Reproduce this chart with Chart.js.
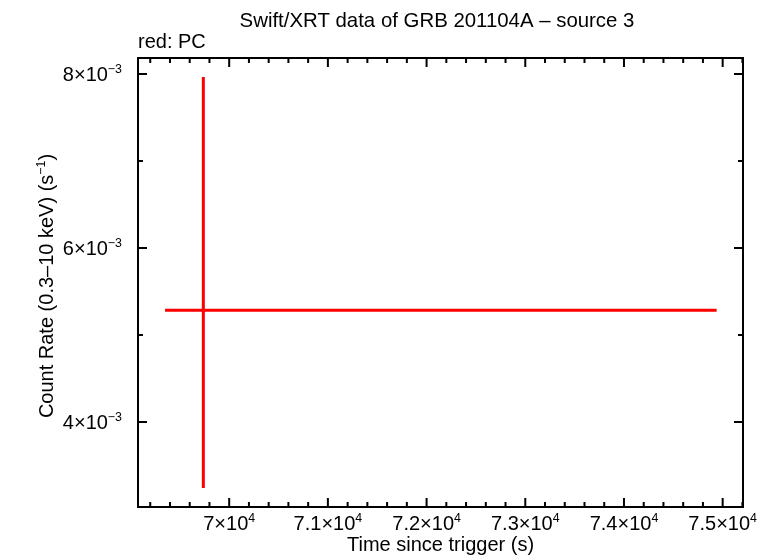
<!DOCTYPE html>
<html><head><meta charset="utf-8">
<script src="https://cdn.jsdelivr.net/npm/chart.js@4"></script>
<style>html,body{margin:0;padding:0;background:#fff}#wrap{width:772px;height:558px}</style>
</head><body><div id="wrap"><canvas id="c" width="772" height="558"></canvas></div>
<script>
// ---- data ----
const timeValues   = [69738];
const timeErrMinus = [388];
const timeErrPlus  = [5201];
const rateValues   = [0.005284];
const rateErrMinus = [0.002043];
const rateErrPlus  = [0.002682];

const xTickValues    = [70000, 71000, 72000, 73000, 74000, 75000];
const xTickMantissas = ['7', '7.1', '7.2', '7.3', '7.4', '7.5'];
const xTickExponent  = '4';
const yTickValues    = [0.004, 0.006, 0.008];
const yTickMantissas = ['4', '6', '8'];
const yTickExponent  = '\u22123';
const xMinorStep = 200;
const yMinorStep = 0.001;
const xRange = [69076, 75206];
const yRange = [0.003023, 0.008184];

const titleText = 'Swift/XRT data of GRB 201104A \u2013 source 3';
const subtitleText = 'red: PC';
const xTitleText = 'Time since trigger (s)';
const yTitleSegments = [{t:'Count Rate (0.3\u201310 keV) (s'}, {t:'\u22121', sup:true}, {t:')'}];

const FONT = '"Liberation Sans", Arial, Helvetica, sans-serif';
const FS = 20;

function font(sz){ return sz + 'px ' + FONT; }
function segWidth(ctx, segs, sz){
  let w = 0;
  for (const s of segs){ ctx.font = font(s.sup ? sz*0.62 : sz); w += ctx.measureText(s.t).width; }
  return w;
}
function drawSegs(ctx, segs, x, y, sz, align){
  const w = segWidth(ctx, segs, sz);
  let cx = align === 'right' ? x - w : align === 'center' ? x - w/2 : x;
  ctx.textAlign = 'left';
  for (const s of segs){
    const fsz = s.sup ? sz*0.62 : sz;
    ctx.font = font(fsz);
    ctx.fillText(s.t, cx, s.sup ? y - sz*0.38 : y);
    cx += ctx.measureText(s.t).width;
  }
}

const plotPlugin = {
  id: 'plotPlugin',
  afterDraw(chart){
    const ctx = chart.ctx;
    const xs = chart.scales.x, ys = chart.scales.y;
    const a = chart.chartArea;
    ctx.save();
    // error bars
    ctx.strokeStyle = '#ff0000';
    ctx.lineWidth = 3;
    ctx.lineCap = 'butt';
    for (let i = 0; i < timeValues.length; i++){
      const px = xs.getPixelForValue(timeValues[i]);
      const py = ys.getPixelForValue(rateValues[i]);
      const x1 = xs.getPixelForValue(timeValues[i] - timeErrMinus[i]);
      const x2 = xs.getPixelForValue(timeValues[i] + timeErrPlus[i]);
      const y1 = ys.getPixelForValue(rateValues[i] - rateErrMinus[i]);
      const y2 = ys.getPixelForValue(rateValues[i] + rateErrPlus[i]);
      ctx.beginPath();
      ctx.moveTo(x1, py); ctx.lineTo(x2, py);
      ctx.moveTo(px, y1); ctx.lineTo(px, y2);
      ctx.stroke();
    }
    // ticks
    ctx.strokeStyle = '#000';
    ctx.lineWidth = 2;
    const MAJ = 9, MIN = 5;
    ctx.beginPath();
    const x0 = Math.ceil(xRange[0] / xMinorStep) * xMinorStep;
    for (let v = x0; v <= xRange[1]; v += xMinorStep){
      const isMaj = xTickValues.some(t => Math.abs(t - v) < 1e-6);
      const L = isMaj ? MAJ : MIN;
      const p = xs.getPixelForValue(v);
      ctx.moveTo(p, a.bottom); ctx.lineTo(p, a.bottom - L);
      ctx.moveTo(p, a.top); ctx.lineTo(p, a.top + L);
    }
    const y0 = Math.ceil(yRange[0] / yMinorStep - 1e-9) * yMinorStep;
    for (let k = 0; y0 + k*yMinorStep <= yRange[1]; k++){
      const v = y0 + k*yMinorStep;
      const isMaj = yTickValues.some(t => Math.abs(t - v) < 1e-9);
      const L = isMaj ? MAJ : MIN;
      const p = ys.getPixelForValue(v);
      ctx.moveTo(a.left, p); ctx.lineTo(a.left + L, p);
      ctx.moveTo(a.right, p); ctx.lineTo(a.right - L, p);
    }
    ctx.stroke();
    // frame
    ctx.lineWidth = 2;
    ctx.strokeRect(a.left, a.top, a.right - a.left, a.bottom - a.top);
    // tick labels
    ctx.fillStyle = '#000';
    ctx.textBaseline = 'alphabetic';
    xTickValues.forEach((v, i) => {
      const p = xs.getPixelForValue(v);
      drawSegs(ctx, [{t: xTickMantissas[i] + '\u00d710'}, {t: xTickExponent, sup: true}], p, 530, FS, 'center');
    });
    yTickValues.forEach((v, i) => {
      const p = ys.getPixelForValue(v);
      drawSegs(ctx, [{t: yTickMantissas[i] + '\u00d710'}, {t: yTickExponent, sup: true}], 122, p + 7, FS, 'right');
    });
    // titles
    ctx.font = font(20.4); ctx.textAlign = 'center';
    ctx.fillText(titleText, 437, 27);
    ctx.font = font(FS);
    ctx.textAlign = 'left';
    ctx.fillText(subtitleText, a.left, 48);
    ctx.textAlign = 'center';
    ctx.fillText(xTitleText, (a.left + a.right)/2, 551);
    ctx.save();
    ctx.translate(53, 286);
    ctx.rotate(-Math.PI/2);
    drawSegs(ctx, yTitleSegments, 0, 0, FS, 'center');
    ctx.restore();
    ctx.restore();
  }
};

new Chart(document.getElementById('c'), {
  type: 'scatter',
  data: { datasets: [{ data: timeValues.map((t, i) => ({x: t, y: rateValues[i]})), pointRadius: 0, showLine: false }] },
  options: {
    responsive: false, animation: false, devicePixelRatio: 1,
    layout: { padding: { left: 138, top: 58, right: 29, bottom: 51 } },
    scales: {
      x: { type: 'linear', display: false, min: xRange[0], max: xRange[1] },
      y: { type: 'linear', display: false, min: yRange[0], max: yRange[1] }
    },
    plugins: { legend: { display: false }, tooltip: { enabled: false }, title: { display: false } },
    events: []
  },
  plugins: [plotPlugin]
});
</script></body></html>
